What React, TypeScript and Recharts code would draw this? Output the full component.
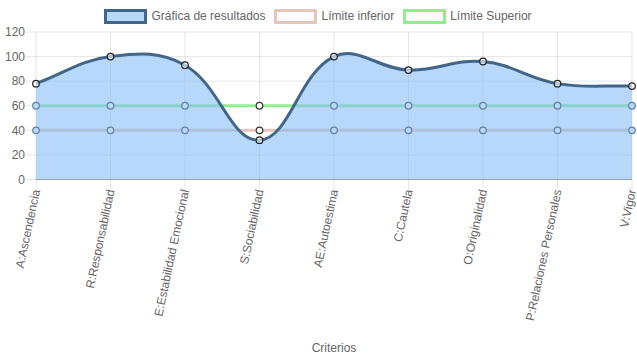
import React from 'react';
import { ComposedChart, Area, XAxis, YAxis, CartesianGrid, Label } from 'recharts';

const categories = [
  'A:Ascendencia',
  'R:Responsabilidad',
  'E:Estabilidad Emocional',
  'S:Sociabilidad',
  'AE:Autoestima',
  'C:Cautela',
  'O:Originalidad',
  'P:Relaciones Personales',
  'V:Vigor',
];
const resultados = [78, 100, 93, 32, 100, 89, 96, 78, 76];
const limiteInferior = [40, 40, 40, 40, 40, 40, 40, 40, 40];
const limiteSuperior = [60, 60, 60, 60, 60, 60, 60, 60, 60];
const yTicks = [0, 20, 40, 60, 80, 100, 120];
const seriesNames = ['Gráfica de resultados', 'Límite inferior', 'Límite Superior'];
const xAxisTitle = 'Criterios';

const data = categories.map((c, i) => ({
  name: c,
  resultados: resultados[i],
  inferior: limiteInferior[i],
  superior: limiteSuperior[i],
}));

const FONT = '"Liberation Sans", Arial, Helvetica, sans-serif';
const TEXT = '#666';
const RES_STROKE = '#41668a';
const RES_FILL = 'rgb(135,190,245)';
const INF_COLOR = '#e6c6b8';
const SUP_COLOR = '#90ee90';

// Chart.js-like spline (tension 0.4)
function chartJsCurve(context: any) {
  const t = 0.4;
  let line: number = NaN;
  let pts: number[][] = [];
  return {
    areaStart() { line = 0; },
    areaEnd() { line = NaN; },
    lineStart() { pts = []; },
    point(x: number, y: number) { pts.push([+x, +y]); },
    lineEnd() {
      const n = pts.length;
      if (n > 0) {
        if (line) context.lineTo(pts[0][0], pts[0][1]);
        else context.moveTo(pts[0][0], pts[0][1]);
        if (n === 2) {
          context.lineTo(pts[1][0], pts[1][1]);
        } else if (n > 2) {
          const cps = pts.map((p, i) => {
            const prev = pts[i - 1] || p;
            const next = pts[i + 1] || p;
            const d01 = Math.hypot(p[0] - prev[0], p[1] - prev[1]);
            const d12 = Math.hypot(next[0] - p[0], next[1] - p[1]);
            let s01 = d01 / (d01 + d12);
            let s12 = d12 / (d01 + d12);
            if (!isFinite(s01)) s01 = 0;
            if (!isFinite(s12)) s12 = 0;
            const fa = t * s01;
            const fb = t * s12;
            return {
              px: p[0] - fa * (next[0] - prev[0]),
              py: p[1] - fa * (next[1] - prev[1]),
              nx: p[0] + fb * (next[0] - prev[0]),
              ny: p[1] + fb * (next[1] - prev[1]),
            };
          });
          for (let i = 1; i < n; i++) {
            context.bezierCurveTo(cps[i - 1].nx, cps[i - 1].ny, cps[i].px, cps[i].py, pts[i][0], pts[i][1]);
          }
        }
      }
      if (line || (line !== 0 && n === 1)) context.closePath();
      line = 1 - line;
    },
  };
}

const XTick = (props: any) => {
  const { x, y, payload } = props;
  return (
    <text
      x={x}
      y={y}
      transform={`rotate(-78, ${x}, ${y})`}
      textAnchor="end"
      dy="0.35em"
      fontSize={12}
      fill={TEXT}
      fontFamily={FONT}
    >
      {payload.value}
    </text>
  );
};

const XTitle = (props: any) => {
  const vb = props.viewBox || {};
  return (
    <text
      x={vb.x + vb.width / 2}
      y={vb.y + vb.height - 11}
      textAnchor="middle"
      dy="0.35em"
      fontSize={12}
      fill={TEXT}
      fontFamily={FONT}
    >
      {xAxisTitle}
    </text>
  );
};

const legendItems = [
  { name: seriesNames[0], fill: '#b7d8f7', border: RES_STROKE },
  { name: seriesNames[1], fill: '#fbfbfb', border: INF_COLOR },
  { name: seriesNames[2], fill: '#fbfbfb', border: SUP_COLOR },
];

// Limit points sit beneath the translucent result fill when the result is above them
const makeLimitDot = (key: string) => (props: any) => {
  const { cx, cy, payload, index } = props;
  if (cx == null || cy == null) return <g key={`${key}-${index}`} />;
  const covered = payload && payload.resultados > payload[key];
  return (
    <circle
      key={`${key}-${index}`}
      cx={cx}
      cy={cy}
      r={3.3}
      fill={covered ? 'rgb(183,216,249)' : '#fff'}
      stroke={covered ? 'rgb(98,128,160)' : '#333'}
      strokeWidth={1.2}
    />
  );
};

export default function App() {
  return (
    <div style={{ position: 'absolute', left: 0, top: 0, width: 637, height: 359, background: '#fff' }}>
      <div
        style={{
          position: 'absolute',
          left: 0,
          top: 0,
          width: 637,
          height: 32,
          display: 'flex',
          justifyContent: 'center',
          alignItems: 'center',
          fontFamily: FONT,
          fontSize: 12,
          color: TEXT,
          gap: 10,
        }}
      >
        {legendItems.map((it) => (
          <div key={it.name} style={{ display: 'flex', alignItems: 'center' }}>
            <div
              style={{
                width: 43,
                height: 15,
                boxSizing: 'border-box',
                border: `3px solid ${it.border}`,
                background: it.fill,
                marginLeft: -1.5,
                marginRight: 4.5,
              }}
            />
            <span style={{ whiteSpace: 'nowrap' }}>{it.name}</span>
          </div>
        ))}
      </div>
      <ComposedChart
        width={637}
        height={359}
        data={data}
        margin={{ top: 32, right: 5, bottom: 0, left: 0 }}
        style={{ fontFamily: FONT }}
      >
        <CartesianGrid stroke="rgba(0,0,0,0.1)" />
        <XAxis
          dataKey="name"
          type="category"
          scale="point"
          padding={{ left: 0, right: 0 }}
          height={179.5}
          interval={0}
          tickSize={10}
          tickMargin={0}
          tickLine={{ stroke: 'rgba(0,0,0,0.1)' }}
          axisLine={{ stroke: 'rgba(0,0,0,0.25)' }}
          tick={<XTick />}
        >
          <Label content={<XTitle />} />
        </XAxis>
        <YAxis
          domain={[0, 120]}
          ticks={yTicks}
          width={36}
          tickSize={10}
          tickMargin={1}
          axisLine={false}
          tickLine={{ stroke: 'rgba(0,0,0,0.1)' }}
          tick={{ fill: TEXT, fontSize: 12, fontFamily: FONT }}
          interval={0}
        />
        <Area
          dataKey="superior"
          type="linear"
          stroke={SUP_COLOR}
          strokeWidth={3}
          fill="none"
          fillOpacity={0}
          dot={makeLimitDot('superior')}
          activeDot={false}
          isAnimationActive={false}
        />
        <Area
          dataKey="inferior"
          type="linear"
          stroke={INF_COLOR}
          strokeWidth={3}
          fill="none"
          fillOpacity={0}
          dot={makeLimitDot('inferior')}
          activeDot={false}
          isAnimationActive={false}
        />
        <Area
          dataKey="resultados"
          type={chartJsCurve as any}
          baseValue={0}
          stroke={RES_STROKE}
          strokeWidth={3}
          fill={RES_FILL}
          fillOpacity={0.6}
          dot={{ r: 3.3, fill: '#fff', stroke: '#222', strokeWidth: 1.2 }}
          activeDot={false}
          isAnimationActive={false}
        />
      </ComposedChart>
    </div>
  );
}
